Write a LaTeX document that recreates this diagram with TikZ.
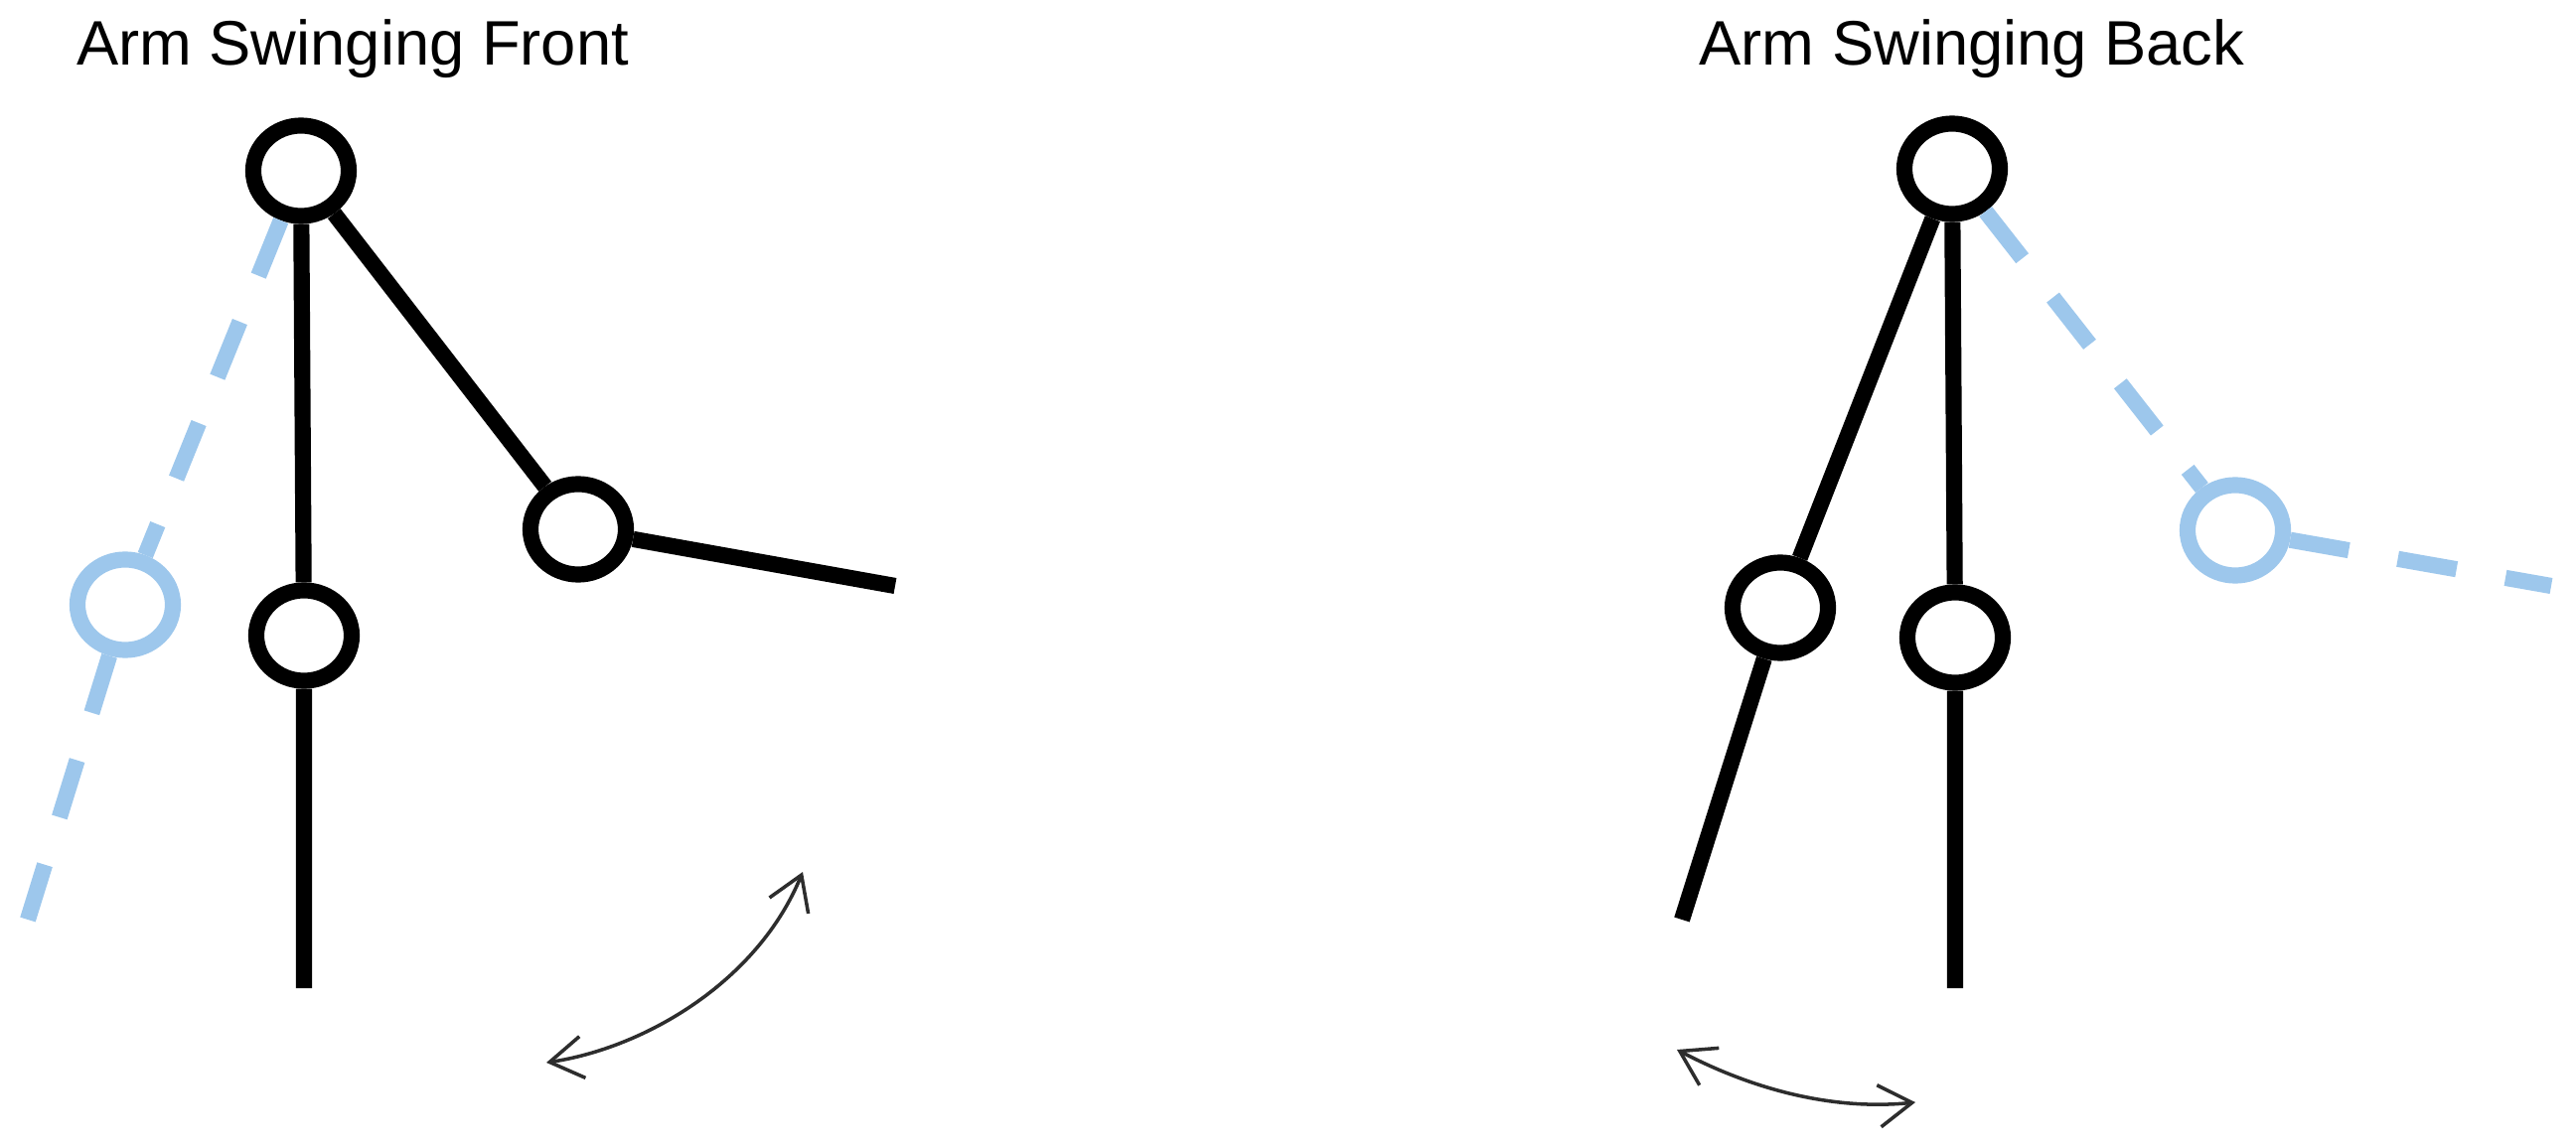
\documentclass[tikz,border=0pt]{standalone}
\usepackage{fontspec}
\setmainfont{Liberation Sans}
\usetikzlibrary{shapes.geometric,arrows.meta}
\definecolor{armblue}{RGB}{157,199,236}
\definecolor{swinggray}{RGB}{45,45,45}
\begin{document}
\begin{tikzpicture}[x=0.01cm,y=-0.01cm,
    joint/.style={ellipse,draw,line width=4.6pt,minimum width=0.96cm,minimum height=0.91cm,inner sep=0pt},
    ghost/.style={joint,draw=armblue},
    limb/.style={line width=4.6pt},
    ghostlimb/.style={draw=armblue,line width=4.6pt,dash pattern=on 0.6cm off 0.5cm},
    swing/.style={swinggray,line width=1pt,{Straight Barb[length=9.5pt,width=12pt]}-{Straight Barb[length=9.5pt,width=12pt]}},
    title/.style={anchor=base,font=\fontsize{18}{22}\selectfont}]
    \fill[white] (0,0) rectangle (2593,1155);
    % arm swinging front
    \node [title] (t1) at (355,66) {Arm Swinging Front};
    \node [joint] (s1) at (303,172) {};
    \node [joint] (h1) at (306,640) {};
    \node [joint] (e1) at (582,533) {};
    \node [ghost] (g1) at (126,609) {};
    \coordinate (foot1) at (306,995);
    \coordinate (hand1) at (901,590);
    \coordinate (ghand1) at (28,926);
    \draw[ghostlimb] (s1) -- (g1);
    \draw[ghostlimb] (g1) -- (ghand1);
    \draw[limb] (s1) -- (h1) -- (foot1);
    \draw[limb] (s1) -- (e1) -- (hand1);
    \coordinate (a1) at (550,1070);
    \coordinate (a2) at (808,878);
    \draw[swing] (a1) .. controls (650,1055) and (763,988) .. (a2);
    % arm swinging back
    \node [title] (t2) at (1985,66) {Arm Swinging Back};
    \node [joint] (s2) at (1965,170) {};
    \node [joint] (h2) at (1968,642) {};
    \node [joint] (e2) at (1792,612) {};
    \node [ghost] (g2) at (2250,534) {};
    \coordinate (foot2) at (1968,995);
    \coordinate (hand2) at (1693,926);
    \coordinate (ghand2) at (2568,590);
    \draw[ghostlimb] (s2) -- (g2);
    \draw[ghostlimb] (g2) -- (ghand2);
    \draw[limb] (s2) -- (h2) -- (foot2);
    \draw[limb] (s2) -- (e2) -- (hand2);
    \coordinate (a3) at (1688,1057);
    \coordinate (a4) at (1928,1110);
    \draw[swing] (a3) .. controls (1770,1100) and (1850,1118) .. (a4);
\end{tikzpicture}
\end{document}
